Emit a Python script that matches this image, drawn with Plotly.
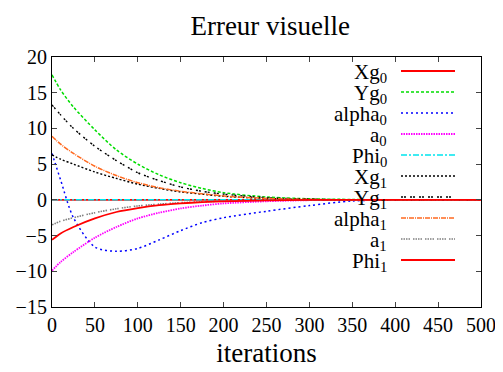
import plotly.graph_objects as go

iters = [0, 10, 25, 50, 75, 100, 125, 150, 175, 200, 250, 300, 350, 400, 450, 500]

Xg0 =    [0, 0, 0, 0, 0, 0, 0, 0, 0, 0, 0, 0, 0, 0, 0, 0]
Yg0 =    [17.5, 15.4, 13.0, 9.8, 7.0, 5.0, 3.5, 2.4, 1.6, 1.0, 0.4, 0.15, 0.05, 0, 0, 0]
alpha0 = [6.5, 2.8, -2.5, -6.6, -7.2, -6.8, -5.6, -4.3, -3.2, -2.5, -1.6, -0.8, -0.15, 0, 0, 0]
a0 =     [-9.9, -8.7, -7.3, -5.3, -3.8, -2.6, -1.8, -1.2, -0.8, -0.5, -0.2, -0.05, 0, 0, 0, 0]
Phi0 =   [0, 0, 0, 0, 0, 0, 0, 0, 0, 0, 0, 0, 0, 0, 0, 0]
Xg1 =    [6.3, 5.7, 5.0, 3.9, 3.0, 2.2, 1.6, 1.1, 0.8, 0.5, 0.2, 0.05, 0, 0, 0, 0]
Yg1 =    [13.3, 11.9, 10.0, 7.5, 5.5, 3.8, 2.7, 1.8, 1.2, 0.8, 0.3, 0.1, 0, 0, 0, 0]
alpha1 = [8.9, 7.8, 6.5, 4.7, 3.4, 2.4, 1.7, 1.2, 0.85, 0.55, 0.2, 0.05, 0, 0, 0, 0]
a1 =     [-3.5, -3.0, -2.5, -1.8, -1.25, -0.85, -0.6, -0.4, -0.27, -0.17, -0.06, 0, 0, 0, 0, 0]
Phi1 =   [-5.6, -4.7, -3.8, -2.6, -1.7, -1.15, -0.75, -0.5, -0.32, -0.2, -0.08, 0, 0, 0, 0, 0]

names = ["Xg<sub>0</sub>", "Yg<sub>0</sub>", "alpha<sub>0</sub>", "a<sub>0</sub>", "Phi<sub>0</sub>",
         "Xg<sub>1</sub>", "Yg<sub>1</sub>", "alpha<sub>1</sub>", "a<sub>1</sub>", "Phi<sub>1</sub>"]
series = [Xg0, Yg0, alpha0, a0, Phi0, Xg1, Yg1, alpha1, a1, Phi1]
colors = ["#ff0000", "#00dd00", "#0000ff", "#ff00ff", "#00e5ee",
          "#000000", "#000000", "#ff6a20", "#808080", "#ff0000"]
dashes = ["solid", "3px,2px", "2px,3px", "1.5px,1px", "6px,2px,2px,2px",
          "2px,2px", "2px,1px,2px,4px", "5px,1px,1px,1px",
          "1.5px,1px,1.5px,1px,1.5px,1px,1.5px,3px", "solid"]
widths = [1.8, 1.5, 1.5, 1.8, 1.5, 1.4, 1.4, 1.5, 1.6, 1.8]

FONT = '"Liberation Serif", "DejaVu Serif", serif'

fig = go.Figure()
for n, s, c, d, w in zip(names, series, colors, dashes, widths):
    fig.add_trace(go.Scatter(x=iters, y=s, mode="lines", name=n,
                             line=dict(color=c, dash=d, width=w, shape="spline", smoothing=0.8),
                             showlegend=False))

# page has an 8px body margin; target pixel coords are in window space
OFF = 8
W, H = 503 - OFF, 372 - OFF
L, R, T, B = 52, 481, 57, 307   # plot box in window pixels
def px(x): return (x - L) / (R - L)
def py(y): return (B - y) / (B - T)

for i, (n, c, d, w) in enumerate(zip(names, colors, dashes, widths)):
    yl = 71 + i * 21
    fig.add_annotation(x=px(389), y=py(yl + 2), xref="paper", yref="paper",
                       text=n, showarrow=False, xanchor="right", yanchor="middle",
                       font=dict(family=FONT, size=21, color="black"))
    fig.add_shape(type="line", xref="paper", yref="paper",
                  x0=px(401), x1=px(455), y0=py(yl), y1=py(yl),
                  line=dict(color=c, dash=d, width=w))

fig.update_layout(
    width=W, height=H,
    margin=dict(l=L - OFF, r=503 - R, t=T - OFF, b=372 - B, autoexpand=False),
    paper_bgcolor="white", plot_bgcolor="white",
    title=dict(text="Erreur visuelle", x=(L + R) / 2 / 503, xanchor="center",
               y=1 - (26 - OFF) / H, yanchor="middle",
               font=dict(family=FONT, size=27, color="black")),
    font=dict(family=FONT, size=20, color="black"),
    xaxis=dict(range=[0, 500], tickvals=list(range(0, 501, 50)),
               ticks="inside", ticklen=5, mirror="ticks", showline=True,
               linecolor="black", linewidth=1.2, showgrid=False, zeroline=False,
               title=dict(text="iterations", font=dict(family=FONT, size=27), standoff=8),
               tickfont=dict(family=FONT, size=20)),
    yaxis=dict(range=[-15, 20], tickvals=list(range(-15, 21, 5)),
               ticks="inside", ticklen=5, mirror="ticks", showline=True,
               linecolor="black", linewidth=1.2, showgrid=False, zeroline=False,
               tickfont=dict(family=FONT, size=20)),
)

fig.write_html("out.html")
